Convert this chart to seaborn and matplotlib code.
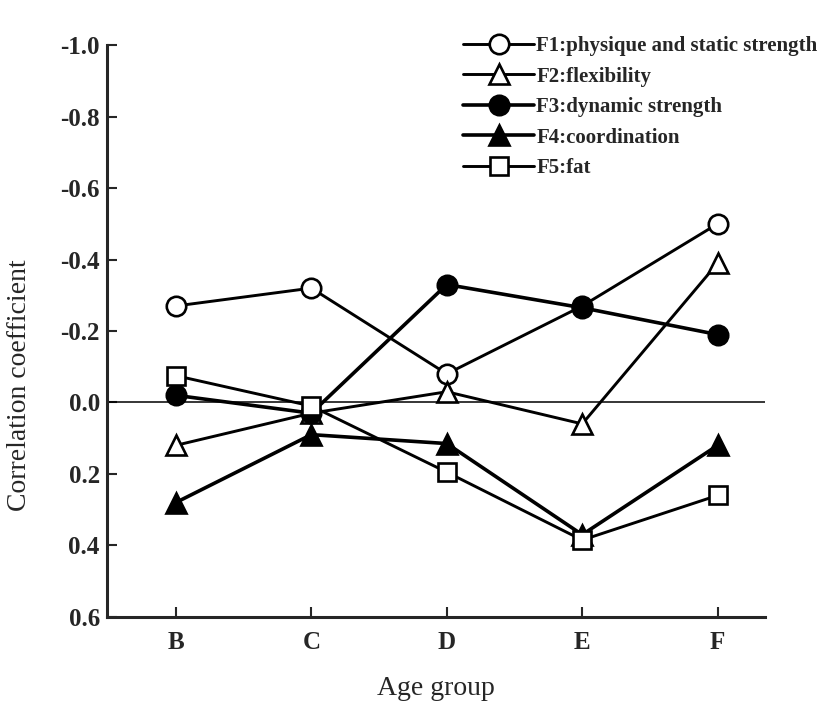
import pandas as pd
import seaborn as sns
import matplotlib.pyplot as plt

# Data (y axis is inverted: negative values at the top)
groups = ['B', 'C', 'D', 'E', 'F']
f1_physique = [-0.27, -0.32, -0.08, -0.27, -0.50]
f2_flexibility = [0.12, 0.03, -0.03, 0.06, -0.39]
f3_dynamic = [-0.02, 0.03, -0.33, -0.265, -0.19]
f4_coordination = [0.28, 0.09, 0.115, 0.37, 0.12]
f5_fat = [-0.075, 0.01, 0.195, 0.385, 0.26]

labels = ['F1:physique and static strength', 'F2:flexibility',
          'F3:dynamic strength', 'F4:coordination', 'F5:fat']
y_ticks = [-1.0, -0.8, -0.6, -0.4, -0.2, 0.0, 0.2, 0.4, 0.6]

sns.set_style('ticks')
plt.rcParams['font.family'] = ['Liberation Serif', 'DejaVu Serif']
plt.rcParams['axes.unicode_minus'] = False

fig = plt.figure(figsize=(8.28, 7.05), dpi=100)
ax = fig.add_axes([0.129, 0.125, 0.795, 0.811])

ax.axhline(0, color='black', lw=1.1, zorder=1)

series = [f1_physique, f2_flexibility, f3_dynamic, f4_coordination, f5_fat]
markers = ['o', '^', 'o', '^', 's']
faces = ['white', 'white', 'black', 'black', 'white']
widths = [2.1, 2.1, 2.6, 2.6, 2.1]
sizes = [14, 14, 14, 14, 13]

for vals, lab, mk, fc, lw, ms in zip(series, labels, markers, faces, widths, sizes):
    sns.lineplot(x=groups, y=vals, ax=ax, color='black', lw=lw, marker=mk,
                 markersize=ms, markerfacecolor=fc, markeredgecolor='black',
                 markeredgewidth=1.9, label=lab, zorder=3)

ax.set_xlim(-0.51, 4.35)
ax.set_ylim(0.6, -1.0)
ax.set_yticks(y_ticks)
ax.set_yticklabels([f'{v:.1f}' for v in y_ticks], fontsize=18, fontweight='bold')
ax.set_xticks(range(len(groups)))
ax.set_xticklabels(groups, fontsize=18, fontweight='bold')
ax.tick_params(direction='in', length=7, width=1.5)
ax.tick_params(axis='y', pad=5)
ax.tick_params(axis='x', pad=10)

for side in ['top', 'right']:
    ax.spines[side].set_visible(False)
for side in ['left', 'bottom']:
    ax.spines[side].set_linewidth(2.2)

ax.set_xlabel('Age group', fontsize=20, labelpad=16)
ax.set_ylabel('Correlation coefficient', fontsize=20)
# label sits a bit below the axis centre in the original
ax.yaxis.set_label_coords(-0.113, 0.405)

ax.legend(loc='upper right', bbox_to_anchor=(1.01, 0.975), bbox_transform=fig.transFigure,
          frameon=False, handlelength=3.4, handletextpad=0.1, labelspacing=0.5,
          prop={'size': 15, 'weight': 'bold'})

fig.savefig('out.png', dpi=100)
